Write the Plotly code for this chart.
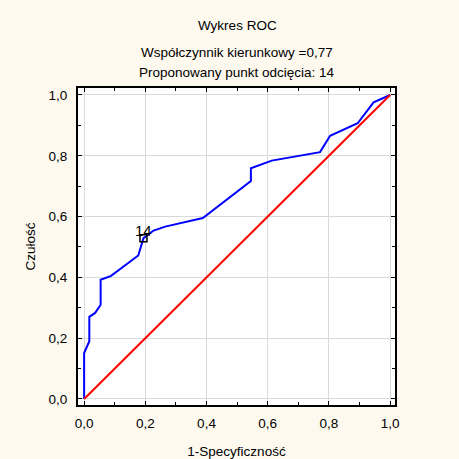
import plotly.graph_objects as go

# ROC curve points (1-specificity, sensitivity)
fpr = [0.0, 0.0, 0.017, 0.017, 0.036, 0.054, 0.054, 0.088, 0.177, 0.194,
       0.227, 0.265, 0.388, 0.545, 0.545, 0.613, 0.771, 0.804, 0.894, 0.946, 1.0]
tpr = [0.0, 0.151, 0.19, 0.27, 0.283, 0.31, 0.392, 0.405, 0.472, 0.529,
       0.554, 0.567, 0.595, 0.717, 0.759, 0.784, 0.812, 0.866, 0.907, 0.976, 1.0]

# reference diagonal
diag_x = [0.0, 1.0]
diag_y = [0.0, 1.0]

# proposed cut-off point
cut_x = [0.194]
cut_y = [0.529]
cut_label = ["14"]

title_lines = ["Wykres ROC", "Współczynnik kierunkowy =0,77", "Proponowany punkt odcięcia: 14"]

FONT = "Liberation Sans, Arial, sans-serif"
FS = 13.5

fig = go.Figure()
fig.add_trace(go.Scatter(x=fpr, y=tpr, mode="lines",
                         line=dict(color="#0000ff", width=2), hoverinfo="skip"))
fig.add_trace(go.Scatter(x=diag_x, y=diag_y, mode="lines",
                         line=dict(color="#ff0000", width=2), hoverinfo="skip"))
fig.add_trace(go.Scatter(x=cut_x, y=cut_y, mode="markers",
                         marker=dict(symbol="square-open", size=7,
                                     color="black", line=dict(width=1.5, color="black")),
                         hoverinfo="skip"))
for cx, cy, lab in zip(cut_x, cut_y, cut_label):
    fig.add_annotation(x=cx, y=cy, text=lab, showarrow=False, yshift=8,
                       xanchor="center", yanchor="middle",
                       font=dict(family=FONT, size=15, color="black"))

axis_common = dict(
    showline=True, linecolor="black", linewidth=2, mirror="allticks",
    ticks="inside", ticklen=4, tickcolor="black", tickwidth=1,
    showgrid=True, gridcolor="#d9d9d9", gridwidth=1,
    zeroline=False, dtick=0.2, tick0=0, tickformat=".1f", automargin=False,
    tickfont=dict(family=FONT, size=FS, color="black"),
    minor=dict(ticks="inside", dtick=0.1, ticklen=3, tickcolor="black", showgrid=False),
)

fig.update_xaxes(range=[-0.02, 1.016], **axis_common, ticklabelstandoff=5,
                 title=dict(text="1-Specyficzność", font=dict(family=FONT, size=FS, color="black"),
                            standoff=18))
fig.update_yaxes(range=[-0.02, 1.023], **axis_common, ticklabelstandoff=6,
                 title=dict(text="Czułość", font=dict(family=FONT, size=FS, color="black"),
                            standoff=10))

for txt, ypix in zip(title_lines, [26, 52, 72]):
    fig.add_annotation(text=txt, xref="paper", yref="paper",
                       x=(237 - 78) / (395 - 78), y=1 + (88 - ypix) / (405 - 88),
                       xanchor="center", yanchor="middle", showarrow=False,
                       font=dict(family=FONT, size=FS, color="black"))

fig.update_layout(
    width=459, height=459,
    margin=dict(l=78, r=64, t=88, b=54),
    paper_bgcolor="#fdf9ef", plot_bgcolor="white",
    showlegend=False, separators=",.",
)

fig.write_html("out.html")
